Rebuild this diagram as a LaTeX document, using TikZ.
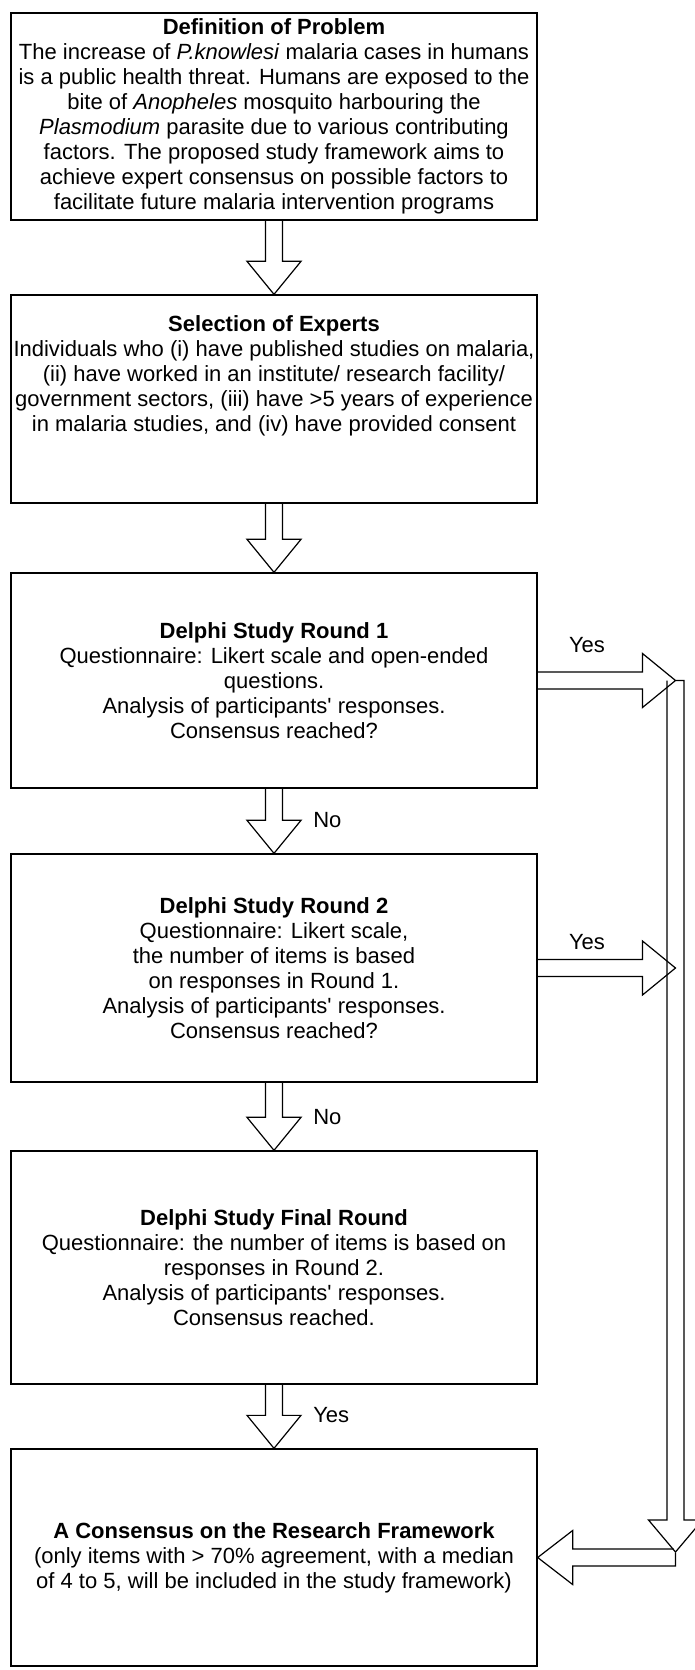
\documentclass[tikz,border=0pt]{standalone}
\usepackage{fontspec}
\setmainfont{Liberation Sans}
\usetikzlibrary{positioning,calc}

\tikzset{
  stagebox/.style={draw, line width=1pt, minimum width=394.5pt, inner xsep=2pt,
    align=center, font=\fontsize{16.5pt}{18.75pt}\selectfont},
  blockarrow/.style={draw, line width=0.9pt, line join=miter},
  answer/.style={inner sep=0pt, font=\fontsize{16.5pt}{18.75pt}\selectfont}
}

% hollow arrow from the bottom of one box to the top of the next
\newcommand{\downblock}[2]{%
  \draw[blockarrow] ($(#1.south)+(-8.5,0)$) -- ($(#2.north)+(-8.5,-33)$)
    -- ($(#2.north)+(-27,-33)$) -- (#2.north) -- ($(#2.north)+(27,-33)$)
    -- ($(#2.north)+(8.5,-33)$) -- ($(#1.south)+(8.5,0)$);}

% hollow arrow from the side of a box into the bar
\newcommand{\sideblock}[2]{%
  \draw[blockarrow] ($(#1.east)+(0,-8.5)$) -- ($(#2)+(-33,-8.5)$)
    -- ($(#2)+(-33,-27)$) -- (#2) -- ($(#2)+(-33,27)$)
    -- ($(#2)+(-33,8.5)$) -- ($(#1.east)+(0,8.5)$);}

\begin{document}
\begin{tikzpicture}[x=0.75pt, y=-0.75pt]
    \fill[white] (0,0) rectangle (694,1670);
    \useasboundingbox (0,0) rectangle (694,1670);

    % Stages of the study
    \node[stagebox, minimum height=155.25pt] (problem) at (274,116.5) {%
      \textbf{Definition of Problem}\\
      The increase of \textit{P.knowlesi} malaria cases in humans\\
      is a public health threat. Humans are exposed to the\\
      bite of \textit{Anopheles} mosquito harbouring the\\
      \textit{Plasmodium} parasite due to various contributing\\
      factors. The proposed study framework aims to\\
      achieve expert consensus on possible factors to\\
      facilitate future malaria intervention programs};
    \node[stagebox, minimum height=156pt] (experts) at (274,399) {%
      \textbf{Selection of Experts}\\
      Individuals who (i) have published studies on malaria,\\
      (ii) have worked in an institute/ research facility/\\
      government sectors, (iii) have >5 years of experience\\
      in malaria studies, and (iv) have provided consent\\
      ~\\
      ~};
    \node[stagebox, minimum height=161.25pt] (round1) at (274,680.5) {%
      \textbf{Delphi Study Round 1}\\
      Questionnaire: Likert scale and open-ended\\
      questions.\\
      Analysis of participants\textquotesingle{} responses.\\
      Consensus reached?};
    \node[stagebox, minimum height=171pt] (round2) at (274,968) {%
      \textbf{Delphi Study Round 2}\\
      Questionnaire: Likert scale,\\
      the number of items is based\\
      on responses in Round 1.\\
      Analysis of participants\textquotesingle{} responses.\\
      Consensus reached?};
    \node[stagebox, minimum height=174.75pt] (final) at (274,1267.5) {%
      \textbf{Delphi Study Final Round}\\
      Questionnaire: the number of items is based on\\
      responses in Round 2.\\
      Analysis of participants\textquotesingle{} responses.\\
      Consensus reached.};
    \node[stagebox, minimum height=162.75pt] (consensus) at (274,1557.5) {%
      \textbf{A Consensus on the Research Framework}\\
      (only items with > 70\% agreement, with a median\\
      of 4 to 5, will be included in the study framework)};

    % Main flow
    \downblock{problem}{experts}
    \downblock{experts}{round1}
    \downblock{round1}{round2}
    \downblock{round2}{final}
    \downblock{final}{consensus}

    \node[answer, anchor=west] (no1) at (313,820) {No};
    \node[answer, anchor=west] (no2) at (313,1117) {No};
    \node[answer, anchor=west] (yes3) at (313,1415) {Yes};

    % Early exits on the right
    \coordinate (bartop) at (675.5,680.5);
    \coordinate (barend) at (675.5,1552);
    \sideblock{round1}{round1.east -| bartop}
    \sideblock{round2}{round2.east -| bartop}
    \node[answer] (yes1) at (587,645) {Yes};
    \node[answer] (yes2) at (587,942) {Yes};

    \draw[blockarrow] (bartop) -- ($(bartop)+(8.5,0)$) -- ($(barend)+(8.5,-32)$)
      -- ($(barend)+(27,-32)$) -- (barend) -- ($(barend)+(-27,-32)$)
      -- ($(barend)+(-8.5,-32)$) -- ($(bartop)+(-8.5,0)$);
    \draw[blockarrow] ($(consensus.east -| barend)+(-2,-8.5)$) -- ($(consensus.east)+(35,-8.5)$)
      -- ($(consensus.east)+(35,-27)$) -- (consensus.east) -- ($(consensus.east)+(35,27)$)
      -- ($(consensus.east)+(35,8.5)$) -- ($(consensus.east -| barend)+(0,8.5)$)
      -- ($(consensus.east -| barend)+(0,-5)$);
\end{tikzpicture}
\end{document}
